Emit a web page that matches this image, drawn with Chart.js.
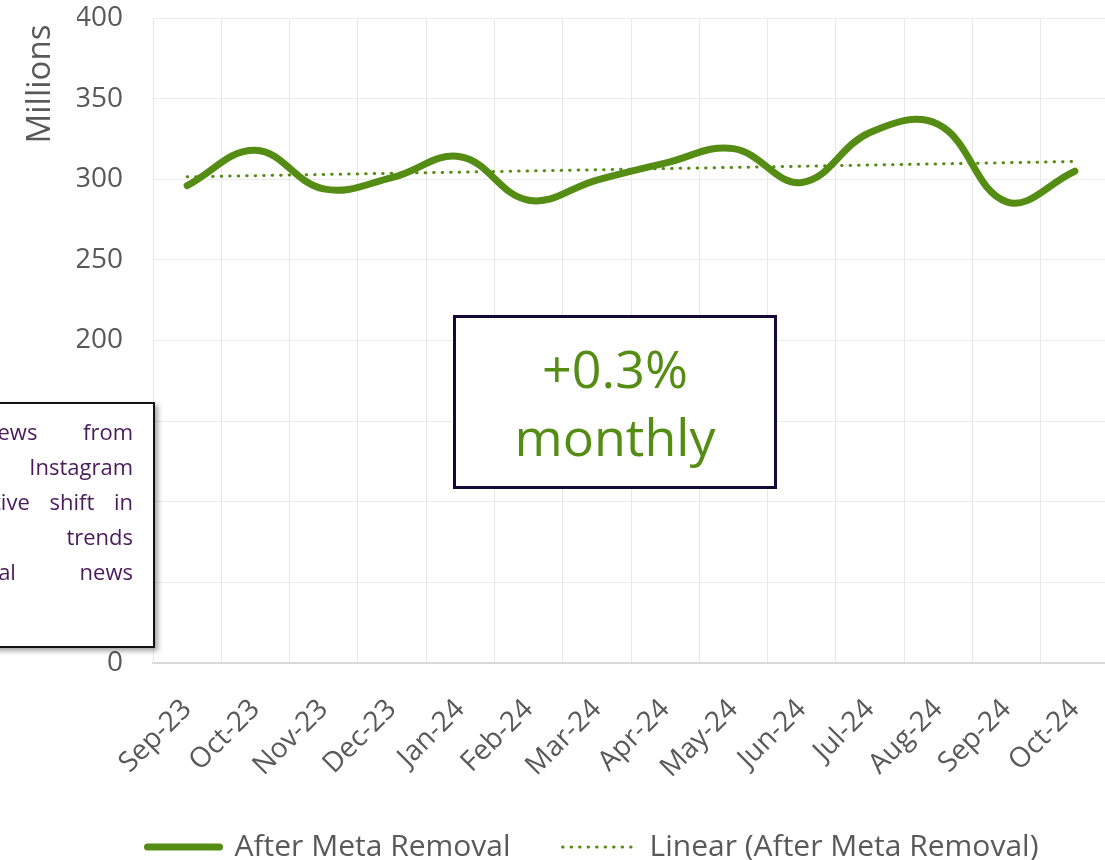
<!DOCTYPE html>
<html>
<head>
<meta charset="utf-8">
<script src="https://cdn.jsdelivr.net/npm/chart.js@4.4.0/dist/chart.umd.min.js"></script>
<style>
  body { margin: 0; background: #fff; overflow: hidden; font-family: "Open Sans", sans-serif; }
  #wrap { position: relative; width: 1105px; height: 860px; overflow: hidden; }
  #chartBox { position: absolute; left: 0; top: 0; width: 1109px; height: 860px; }
  .note {
    position: absolute; left: -80px; top: 402px; width: 231px; height: 232px;
    border: 2px solid #111; background: #fff; box-sizing: content-box;
    box-shadow: 3px 3px 5px rgba(0,0,0,0.35);
    color: #4b1a5c; font-size: 22px; line-height: 35px; padding-top: 10px;
  }
  .note .ln { display: flex; justify-content: space-between; margin-right: 20px; white-space: nowrap; }
  .note .r { justify-content: flex-end; }
  .rate {
    position: absolute; left: 453px; top: 315px; width: 318px; height: 168px;
    border: 3px solid #15093a; background: #fff;
    color: #548c14; font-size: 52px; line-height: 68px; text-align: center;
    display: flex; flex-direction: column; justify-content: center;
  }
</style>
</head>
<body>
<div id="wrap">
  <div id="chartBox"><canvas id="chart"></canvas></div>
  <div class="note">
    <div class="ln" style="margin-left:62px"><span>news</span><span>from</span></div>
    <div class="ln r"><span>Instagram</span></div>
    <div class="ln r"><span style="word-spacing:14px">positive shift in</span></div>
    <div class="ln r"><span>trends</span></div>
    <div class="ln" style="margin-left:17px"><span>general</span><span>news</span></div>
  </div>
  <div class="rate"><div>+0.3%</div><div>monthly</div></div>
</div>
<script>
const months = ["Sep-23", "Oct-23", "Nov-23", "Dec-23", "Jan-24", "Feb-24", "Mar-24",
  "Apr-24", "May-24", "Jun-24", "Jul-24", "Aug-24", "Sep-24", "Oct-24"];
const afterMeta = [296, 318, 294, 301, 314, 287, 299.5, 310, 319, 298, 329, 334, 286, 305];
// trend line read at the first and last month
const trendEnds = [301.5, 311];
const yMin = 0, yMax = 400, yStep = 50;

const green = "#548c14";
const grey = "#595959";

const trend = months.map((m, i) => i === 0 ? trendEnds[0] : (i === months.length - 1 ? trendEnds[1] : null));

Chart.defaults.font.family = '"Open Sans", sans-serif';
Chart.defaults.color = grey;

// axis title sits near the top in the original, so draw it by hand
const yTitle = {
  id: "yTitle",
  afterDraw(chart) {
    const ctx = chart.ctx;
    ctx.save();
    ctx.translate(41, 84);
    ctx.rotate(-Math.PI / 2);
    ctx.font = '33px "Open Sans", sans-serif';
    ctx.fillStyle = grey;
    ctx.textAlign = "center";
    ctx.textBaseline = "middle";
    ctx.fillText("Millions", 0, 0);
    ctx.restore();
  }
};

new Chart(document.getElementById("chart"), {
  type: "line",
  data: {
    labels: months,
    datasets: [
      {
        label: "After Meta Removal",
        data: afterMeta,
        borderColor: green,
        backgroundColor: green,
        borderWidth: 7,
        borderCapStyle: "round",
        pointRadius: 0,
        tension: 0.4
      },
      {
        label: "Linear (After Meta Removal)",
        data: trend,
        spanGaps: true,
        borderColor: green,
        backgroundColor: green,
        borderWidth: 3,
        borderDash: [0.5, 8],
        borderCapStyle: "round",
        pointRadius: 0
      }
    ]
  },
  options: {
    responsive: true,
    maintainAspectRatio: false,
    animation: false,
    layout: { padding: { left: 77, top: 18, right: 0, bottom: -12 } },
    plugins: {
      legend: {
        position: "bottom",
        labels: {
          usePointStyle: true,
          pointStyle: "line",
          pointStyleWidth: 72,
          boxWidth: 72,
          padding: 52,
          color: grey,
          font: { size: 30 },
          generateLabels(chart) {
            return chart.data.datasets.map((ds, i) => ({
              text: ds.label,
              fillStyle: ds.borderColor,
              strokeStyle: ds.borderColor,
              lineWidth: ds.borderWidth,
              lineDash: ds.borderDash || [],
              lineCap: "round",
              pointStyle: "line",
              fontColor: grey,
              hidden: false,
              datasetIndex: i
            }));
          }
        }
      },
      tooltip: { enabled: false }
    },
    scales: {
      x: {
        offset: true,
        afterFit(scale) {
          scale.height = 117;
          scale.paddingLeft = 0;
          scale.paddingRight = 0;
        },
        grid: { offset: true, color: "#e8e8e8", drawTicks: false },
        border: { color: "#d9d9d9", width: 2 },
        ticks: {
          autoSkip: false,
          minRotation: 45,
          maxRotation: 45,
          padding: 30,
          color: grey,
          font: { size: 28 }
        }
      },
      y: {
        min: yMin,
        max: yMax,
        afterFit(scale) {
          scale.width = 76;
          scale.paddingTop = 0;
          scale.paddingBottom = 0;
        },
        grid: { color: "#ebebeb", drawTicks: false },
        border: { color: "#e8e8e8" },
        ticks: {
          stepSize: yStep,
          padding: 30,
          color: grey,
          font: { size: 28 }
        }
      }
    }
  },
  plugins: [yTitle]
});
</script>
</body>
</html>
